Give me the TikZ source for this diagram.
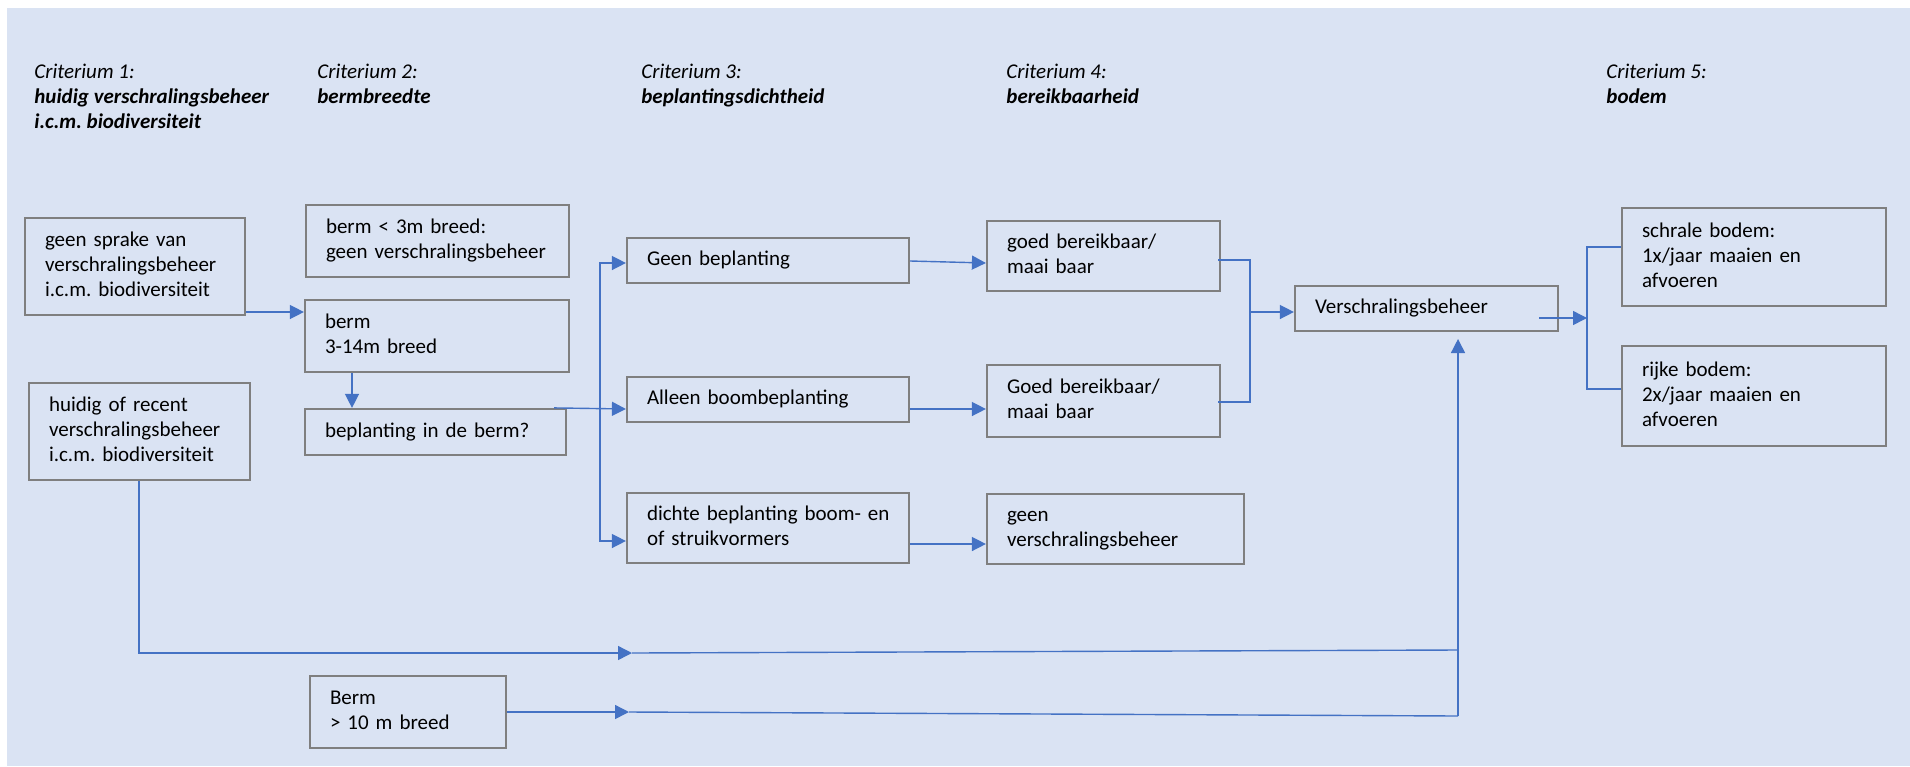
\documentclass[tikz,border=0pt]{standalone}
\usepackage{fontspec}
\setmainfont{Carlito}
\usetikzlibrary{arrows.meta,calc}
\definecolor{bgblue}{HTML}{DAE3F3}
\definecolor{boxgray}{HTML}{7F7F7F}
\definecolor{arrblue}{HTML}{4472C4}
\frenchspacing
\newcommand{\tl}[1]{\begin{tabular}{@{}l@{}}#1\end{tabular}}
\newcommand{\fs}{\fontsize{10.5pt}{12.5pt}\selectfont}
\tikzset{
  box/.style={draw=boxgray, line width=1.1pt, fill=bgblue, align=left, inner xsep=10pt, inner ysep=0pt, font=\fs},
  arr/.style={draw=arrblue, line width=0.7pt, -{Triangle[length=7pt,width=7pt]}},
  ln/.style={draw=arrblue, line width=0.7pt},
  hdr/.style={anchor=north west, inner sep=0pt, align=left, font=\fs}
}
\begin{document}
\begin{tikzpicture}[x=0.5pt,y=-0.5pt]
\useasboundingbox (0,0) rectangle (1910,766);
\fill[bgblue] (7,8) rectangle (1910,766);

% headers
\node[hdr] (h1) at (34,60.5) {\tl{\itshape Criterium 1:\\\bfseries\itshape huidig verschralingsbeheer\\\bfseries\itshape i.c.m. biodiversiteit}};
\node[hdr] (h2) at (317,60.5) {\tl{\itshape Criterium 2:\\\bfseries\itshape bermbreedte}};
\node[hdr] (h3) at (641,60.5) {\tl{\itshape Criterium 3:\\\bfseries\itshape beplantingsdichtheid}};
\node[hdr] (h4) at (1006,60.5) {\tl{\itshape Criterium 4:\\\bfseries\itshape bereikbaarheid}};
\node[hdr] (h5) at (1606,60.5) {\tl{\itshape Criterium 5:\\\bfseries\itshape bodem}};

% boxes
\node[box, minimum width=110pt, minimum height=48.5pt, text width=90pt] (A) at (135,266.5) {\tl{geen sprake van\\verschralingsbeheer\\i.c.m. biodiversiteit}};
\node[box, minimum width=131.5pt, minimum height=36pt, text width=111.5pt] (B) at (437.5,241) {\tl{berm < 3m breed:\\geen verschralingsbeheer}};
\node[box, minimum width=132pt, minimum height=36pt, text width=112pt] (C) at (437,336) {\tl{berm\\3-14m breed}};
\node[box, minimum width=130.5pt, minimum height=23pt, text width=110.5pt] (D) at (435.5,432) {\tl{beplanting in de berm?}};
\node[box, minimum width=110.5pt, minimum height=48.5pt, text width=90.5pt] (E) at (139.5,431.5) {\tl{huidig of recent\\verschralingsbeheer\\i.c.m. biodiversiteit}};
\node[box, minimum width=141pt, minimum height=22.5pt, text width=121pt] (F) at (768,260.5) {\tl{Geen beplanting}};
\node[box, minimum width=141pt, minimum height=22.5pt, text width=121pt] (G) at (768,399.5) {\tl{Alleen boombeplanting}};
\node[box, minimum width=141pt, minimum height=35pt, text width=121pt] (H) at (768,528) {\tl{dichte beplanting boom- en\\of struikvormers}};
\node[box, minimum width=116.5pt, minimum height=35pt, text width=96.5pt] (I) at (1103.5,256) {\tl{goed bereikbaar/\\maai baar}};
\node[box, minimum width=116.5pt, minimum height=36pt, text width=96.5pt] (J) at (1103.5,401) {\tl{Goed bereikbaar/\\maai baar}};
\node[box, minimum width=128.5pt, minimum height=35pt, text width=108.5pt] (K) at (1115.5,529) {\tl{geen\\verschralingsbeheer}};
\node[box, minimum width=131.5pt, minimum height=22.5pt, text width=111.5pt] (L) at (1426.5,308.5) {\tl{Verschralingsbeheer}};
\node[box, minimum width=132pt, minimum height=49pt, text width=112pt] (M) at (1754,257) {\tl{schrale bodem:\\1x/jaar maaien en\\afvoeren}};
\node[box, minimum width=132pt, minimum height=50pt, text width=112pt] (N) at (1754,396) {\tl{rijke bodem:\\2x/jaar maaien en\\afvoeren}};
\node[box, minimum width=98pt, minimum height=36pt, text width=78pt] (O) at (408,712) {\tl{Berm\\> 10 m breed}};

% connectors
\draw[arr] (A.east |- 0,312) -- (C.west |- 0,312);
\draw[arr] (C.south -| 352,0) -- (D.north -| 352,0);
\draw[arr] (D.north -| 554,0) -- (G.west |- 0,409);
\draw[arr] (D.north -| 600,0) |- (F.west |- 0,263);
\draw[arr] (D.north -| 600,0) |- (H.west |- 0,541);
\draw[arr] (F.east |- 0,261) -- (I.west |- 0,263);
\draw[arr] (G.east |- 0,409) -- (J.west |- 0,409);
\draw[arr] (H.east |- 0,544) -- (K.west |- 0,544);
\draw[ln] ($(I.east |- 0,260)+(-3,0)$) -- (1250,260) -- (1250,402) -- ($(J.east |- 0,402)+(-3,0)$);
\draw[arr] (1250,312) -- (L.west |- 0,312);
\draw[arr] ($(L.east |- 0,318)+(-20,0)$) -- (1587,318);
\draw[ln] (M.west |- 0,247) -- (1587,247) -- (1587,389) -- (N.west |- 0,389);
\coordinate (Lin) at (1458,339);
\draw[arr] (E.south -| 139,0) |- (632,653);
\draw[ln] (632,653) -- (1458,650);
\draw[arr] (O.east |- 0,712) -- (629,712);
\draw[ln] (629,712) -- (1458,716);
\draw[arr] (1458,716) -- (Lin);
\end{tikzpicture}
\end{document}
